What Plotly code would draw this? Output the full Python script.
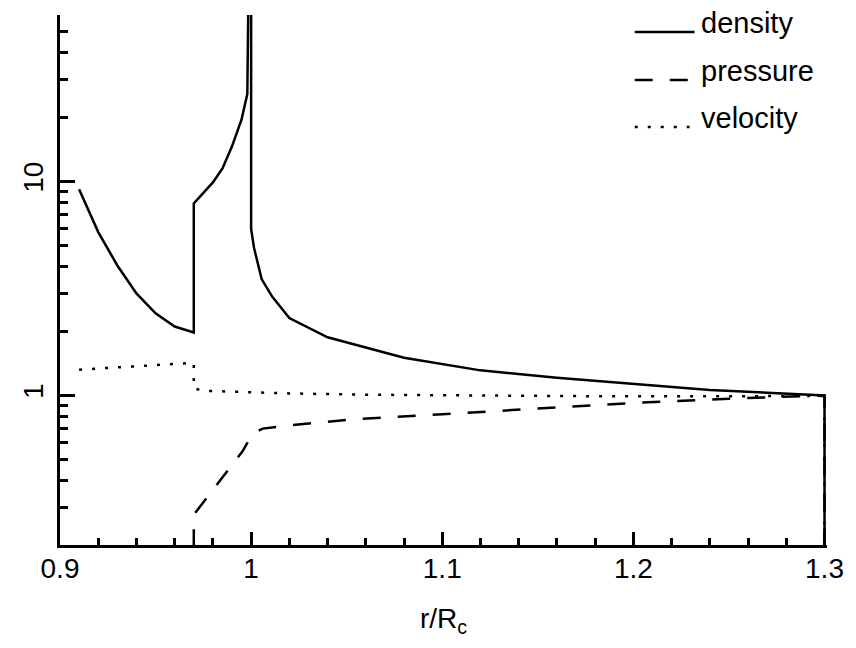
import numpy as np
import plotly.graph_objects as go

# --- profiles across the shocked shell (r in units of R_c) ---
density_r = [0.91, 0.92, 0.93, 0.94, 0.95, 0.96, 0.97,
             0.97, 0.98, 0.985, 0.99, 0.995, 0.998, 0.9987, 0.9989,
             1.0, 1.0, 1.0015, 1.0055, 1.011, 1.02, 1.04, 1.08, 1.12,
             1.16, 1.2, 1.24, 1.3, 1.3]
density = [9.2, 5.8, 4.05, 3.0, 2.42, 2.1, 1.97,
           7.9, 9.9, 11.5, 14.6, 19.5, 25.6, 70.0, 1000.0,
           1000.0, 6.0, 4.9, 3.5, 2.9, 2.3, 1.87, 1.5, 1.31,
           1.21, 1.135, 1.06, 1.0, 0.001]

pressure_r = [0.97, 0.97, 0.9955, 0.998, 1.0, 1.006, 1.018, 1.036, 1.055,
              1.1, 1.16, 1.2, 1.25, 1.3, 1.3]
pressure = [0.001, 0.277, 0.548, 0.60, 0.656, 0.70, 0.722, 0.749, 0.776,
            0.817, 0.876, 0.923, 0.966, 1.0, 0.001]

velocity_r = [0.91, 0.97, 0.97, 0.975, 1.0, 1.02, 1.06, 1.1, 1.18, 1.3, 1.3]
velocity = [1.32, 1.42, 1.08, 1.052, 1.035, 1.022, 1.008, 1.0, 0.992, 0.993, 0.001]

x_ticks = [0.9, 1.0, 1.1, 1.2, 1.3]
x_tick_text = ["0.9", "1", "1.1", "1.2", "1.3"]
x_minor = [0.92, 0.94, 0.96, 0.98, 1.02, 1.04, 1.06, 1.08, 1.12, 1.14,
           1.16, 1.18, 1.22, 1.24, 1.26, 1.28]
y_ticks = [1, 10]
y_tick_text = ["1", "10"]
y_minor = [0.2, 0.3, 0.4, 0.5, 0.6, 0.7, 0.8, 0.9,
           2, 3, 4, 5, 6, 7, 8, 9, 20, 30, 40, 50, 60]

series = [
    ("density", density_r, density, "solid"),
    ("pressure", pressure_r, pressure, "18px,17px"),
    ("velocity", velocity_r, velocity, "3px,10px"),
]

FONT = "Liberation Sans"
LW = 2.5

fig = go.Figure()
for name, xs, ys, dash in series:
    fig.add_trace(go.Scatter(
        x=xs, y=ys, mode="lines", name=name, showlegend=False,
        line=dict(color="black", width=LW, dash=dash),
    ))

# plot-area geometry (pixels) used to place the key in paper coordinates
W, H = 856, 648
ML, MR, MT, MB = 60, 26, 15, 103
PW, PH = W - ML - MR, H - MT - MB


def px(xp):
    return (xp - ML) / PW


def py(yp):
    return (H - MB - yp) / PH


# key: sample line + label per series
key_rows = [32, 80, 127]
for (name, _, _, dash), yrow in zip(series, key_rows):
    fig.add_shape(type="line", xref="paper", yref="paper",
                  x0=px(637), x1=px(697) if dash == "solid" else px(692),
                  y0=py(yrow), y1=py(yrow),
                  line=dict(color="black", width=LW, dash=dash))
    fig.add_annotation(xref="paper", yref="paper", x=px(701), y=py(yrow - 9),
                       text=name, showarrow=False, xanchor="left",
                       yanchor="middle",
                       font=dict(family=FONT, size=29, color="black"))

fig.update_layout(
    width=W, height=H,
    margin=dict(l=ML, r=MR, t=MT, b=MB),
    paper_bgcolor="white", plot_bgcolor="white",
    font=dict(family=FONT, size=28, color="black"),
    xaxis=dict(
        range=[0.9, 1.3013],
        tickmode="array", tickvals=x_ticks, ticktext=x_tick_text,
        ticks="inside", ticklen=13, tickwidth=LW, tickcolor="black",
        showline=True, linewidth=3, linecolor="black",
        showgrid=False, zeroline=False,
        ticklabelstandoff=-4,
        minor=dict(tickmode="array", tickvals=x_minor, ticks="inside",
                   ticklen=7, tickwidth=LW, tickcolor="black", showgrid=False),
        title=dict(text="r/R<sub>c</sub>", standoff=26,
                   font=dict(family=FONT, size=28)),
        tickfont=dict(family=FONT, size=28),
    ),
    yaxis=dict(
        type="log",
        range=[np.log10(0.2), np.log10(60)],
        tickmode="array", tickvals=y_ticks, ticktext=y_tick_text,
        tickangle=-90, ticklabelstandoff=3,
        ticks="inside", ticklen=15, tickwidth=LW, tickcolor="black",
        showline=True, linewidth=3, linecolor="black",
        showgrid=False, zeroline=False,
        minor=dict(tickmode="array", tickvals=y_minor, ticks="inside",
                   ticklen=8, tickwidth=LW, tickcolor="black", showgrid=False),
        tickfont=dict(family=FONT, size=28),
    ),
)

fig.write_html("out.html")
